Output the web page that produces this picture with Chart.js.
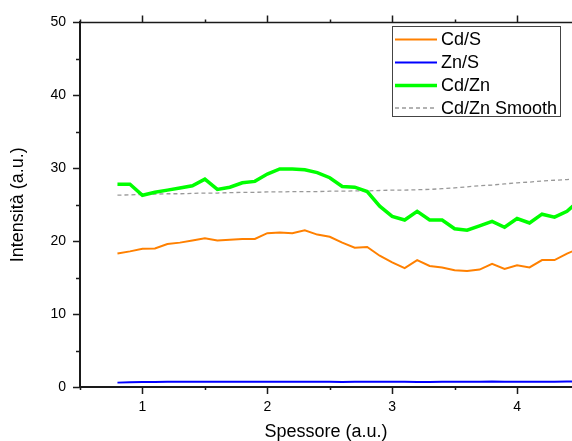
<!DOCTYPE html>
<html>
<head>
<meta charset="utf-8">
<script src="https://cdn.jsdelivr.net/npm/chart.js@4"></script>
<style>
  html, body { margin: 0; padding: 0; background: #fff; overflow: hidden; }
  #wrap { position: relative; width: 572px; height: 441px; }
</style>
</head>
<body>
<div id="wrap"><canvas id="myChart"></canvas></div>
<script>
var spessore = [0.8, 0.9, 1.0, 1.1, 1.2, 1.3, 1.4, 1.5, 1.6, 1.7, 1.8, 1.9, 2.0, 2.1, 2.2, 2.3, 2.4, 2.5, 2.6,
                2.7, 2.8, 2.9, 3.0, 3.1, 3.2, 3.3, 3.4, 3.5, 3.6, 3.7, 3.8, 3.9, 4.0, 4.1, 4.2, 4.3, 4.4, 4.5];

var cdS = [18.3, 18.6, 18.95, 19.0, 19.6, 19.8, 20.1, 20.4, 20.1, 20.2, 20.3, 20.3, 21.1, 21.2, 21.1, 21.5, 20.9, 20.6, 19.8,
           19.1, 19.2, 18.0, 17.1, 16.3, 17.4, 16.6, 16.4, 16.0, 15.9, 16.1, 16.9, 16.2, 16.7, 16.4, 17.4, 17.4, 18.3, 19.0];

var znS = [0.6, 0.65, 0.7, 0.7, 0.72, 0.72, 0.72, 0.73, 0.73, 0.73, 0.73, 0.73, 0.72, 0.71, 0.72, 0.73, 0.72, 0.71, 0.7,
           0.72, 0.73, 0.72, 0.73, 0.72, 0.7, 0.7, 0.72, 0.71, 0.72, 0.73, 0.75, 0.73, 0.72, 0.72, 0.73, 0.73, 0.74, 0.75];

var cdZn = [27.8, 27.8, 26.3, 26.7, 27.0, 27.3, 27.6, 28.5, 27.1, 27.4, 28.0, 28.2, 29.2, 29.9, 29.9, 29.8, 29.4, 28.7, 27.5,
            27.4, 26.8, 24.8, 23.4, 22.9, 24.1, 22.9, 22.9, 21.7, 21.5, 22.1, 22.7, 21.9, 23.1, 22.5, 23.7, 23.3, 24.1, 25.6];

var cdZnSmooth = [26.3, 26.35, 26.4, 26.45, 26.5, 26.5, 26.55, 26.6, 26.6, 26.65, 26.7, 26.7, 26.75, 26.75, 26.8, 26.8, 26.8, 26.85, 26.85,
                  26.9, 26.9, 26.95, 27.0, 27.0, 27.05, 27.1, 27.2, 27.3, 27.45, 27.6, 27.7, 27.85, 28.0, 28.1, 28.25, 28.35, 28.45, 28.55];

var xMajor = [1, 2, 3, 4];
var xMinor = [0.5, 1.5, 2.5, 3.5];
var yMajor = [0, 10, 20, 30, 40, 50];
var yMinor = [5, 15, 25, 35, 45];

var font = "'Liberation Sans', Arial, sans-serif";
var axisColor = '#1a1a1a';

function pts(ys) {
    return spessore.map(function(x, i) { return {x: x, y: ys[i]}; });
}

// tick marks (major longer than minor) and the top spine
var ticksPlugin = {
    id: 'ticks',
    afterDraw: function(chart) {
        var c = chart.ctx, a = chart.chartArea;
        var xs = chart.scales.x, ys = chart.scales.y;
        c.save();
        c.strokeStyle = axisColor;
        c.lineWidth = 1.5;
        c.beginPath();
        c.moveTo(a.left - 1, a.top);
        c.lineTo(a.right, a.top);
        xMajor.forEach(function(v) {
            var px = Math.round(xs.getPixelForValue(v)) + 0.5;
            c.moveTo(px, a.bottom); c.lineTo(px, a.bottom + 7);
            c.moveTo(px, a.top); c.lineTo(px, a.top - 7);
        });
        xMinor.forEach(function(v) {
            var px = Math.round(xs.getPixelForValue(v)) + 0.5;
            c.moveTo(px, a.bottom); c.lineTo(px, a.bottom + 3);
            c.moveTo(px, a.top); c.lineTo(px, a.top - 3);
        });
        yMajor.forEach(function(v) {
            var py = Math.round(ys.getPixelForValue(v)) + 0.5;
            c.moveTo(a.left, py); c.lineTo(a.left - 7, py);
        });
        yMinor.forEach(function(v) {
            var py = Math.round(ys.getPixelForValue(v)) + 0.5;
            c.moveTo(a.left, py); c.lineTo(a.left - 4, py);
        });
        c.stroke();
        c.restore();
    }
};

// legend box inside the plot, top right
var legendPlugin = {
    id: 'boxLegend',
    afterDraw: function(chart) {
        var c = chart.ctx;
        c.save();
        c.strokeStyle = '#444';
        c.lineWidth = 1;
        c.strokeRect(392.5, 26.5, 168, 90);
        c.font = '18px ' + font;
        c.textBaseline = 'middle';
        c.fillStyle = '#000';
        var rows = [39.5, 62.5, 85.5, 108];
        chart.data.datasets.forEach(function(ds, i) {
            var y = rows[i];
            c.beginPath();
            c.strokeStyle = ds.borderColor;
            c.lineWidth = ds.borderWidth;
            c.setLineDash(ds.borderDash || []);
            c.moveTo(395, y);
            c.lineTo(437, y);
            c.stroke();
            c.setLineDash([]);
            c.fillText(ds.label, 441, y + 1);
        });
        c.restore();
    }
};

var ctx = document.getElementById('myChart').getContext('2d');
var chart = new Chart(ctx, {
    type: 'line',
    data: {
        datasets: [{
            label: 'Cd/S',
            data: pts(cdS),
            borderColor: '#ff8000',
            borderWidth: 2
        }, {
            label: 'Zn/S',
            data: pts(znS),
            borderColor: '#0000ff',
            borderWidth: 2
        }, {
            label: 'Cd/Zn',
            data: pts(cdZn),
            borderColor: '#00ff00',
            borderWidth: 3.5
        }, {
            label: 'Cd/Zn Smooth',
            data: pts(cdZnSmooth),
            borderColor: '#999999',
            borderWidth: 1.3,
            borderDash: [4, 3]
        }]
    },
    options: {
        responsive: true,
        maintainAspectRatio: false,
        devicePixelRatio: 1,
        animation: false,
        events: [],
        elements: { point: { radius: 0 }, line: { tension: 0 } },
        layout: { padding: { top: 18, right: 0, bottom: 0, left: 0 } },
        plugins: { legend: { display: false }, tooltip: { enabled: false } },
        scales: {
            x: {
                type: 'linear',
                min: 0.5,
                max: 4.44,
                afterFit: function(s) { s.height = 54; s.paddingLeft = 0; s.paddingRight = 0; },
                grid: { display: false, drawTicks: false },
                border: { display: true, color: axisColor, width: 2 },
                ticks: {
                    stepSize: 0.5,
                    padding: 12,
                    color: '#000',
                    font: { family: font, size: 14 },
                    maxRotation: 0,
                    autoSkip: false,
                    callback: function(v) { return Number.isInteger(v) ? String(v) : ''; }
                },
                title: {
                    display: true,
                    text: 'Spessore (a.u.)',
                    color: '#000',
                    font: { family: font, size: 18, lineHeight: 1 },
                    padding: { top: 0, bottom: 0 }
                }
            },
            y: {
                min: 0,
                max: 50,
                afterFit: function(s) { s.width = 80; },
                grid: { display: false, drawTicks: false },
                border: { display: true, color: axisColor, width: 2 },
                ticks: {
                    stepSize: 10,
                    padding: 14,
                    color: '#000',
                    font: { family: font, size: 14 }
                },
                title: {
                    display: true,
                    text: 'Intensità (a.u.)',
                    color: '#000',
                    font: { family: font, size: 18, lineHeight: 1 },
                    padding: { top: 9, bottom: 0 }
                }
            }
        }
    },
    plugins: [ticksPlugin, legendPlugin]
});
</script>
</body>
</html>
